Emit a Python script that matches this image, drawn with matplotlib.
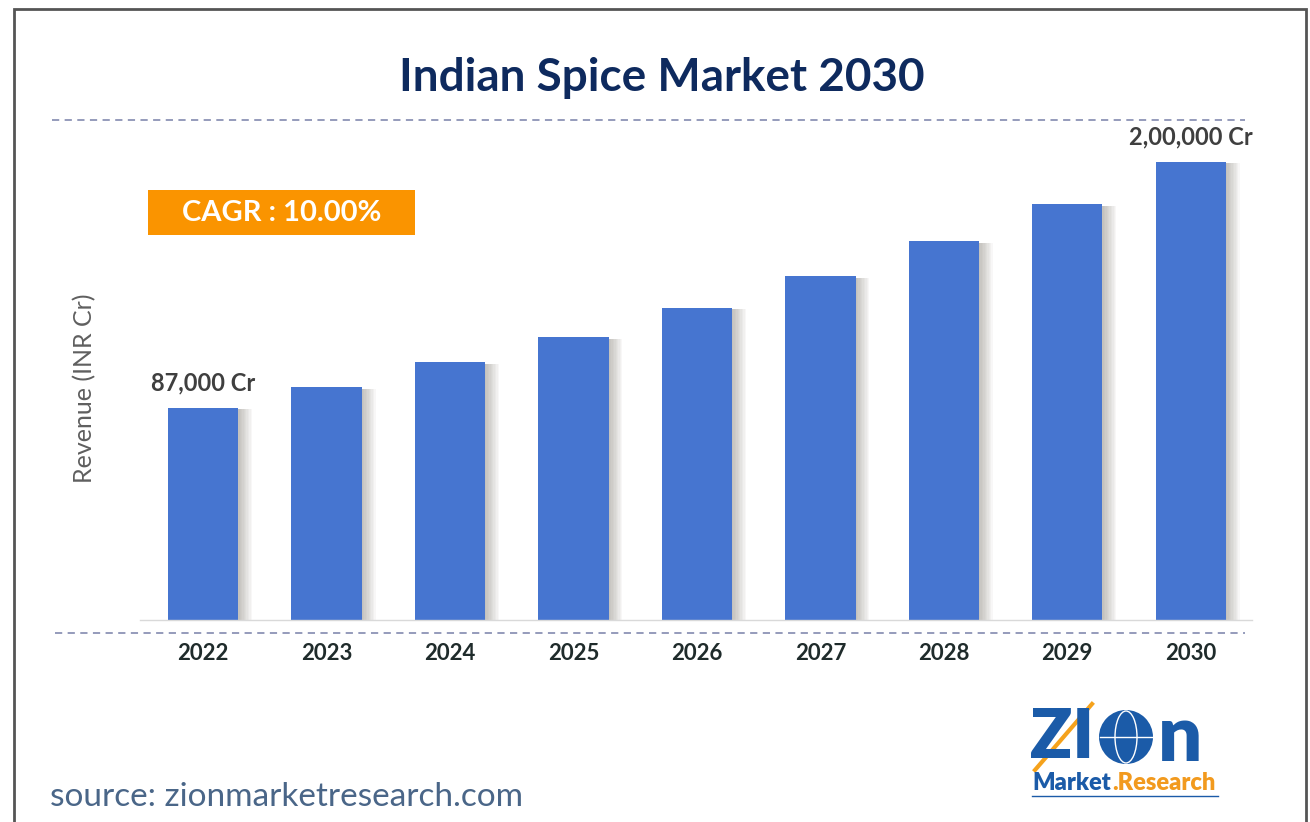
import matplotlib
matplotlib.use("Agg")
import matplotlib.pyplot as plt
import matplotlib.patheffects as pe
from matplotlib.patches import Rectangle, Ellipse
from matplotlib.lines import Line2D

W, H = 1310, 822

years = ["2022", "2023", "2024", "2025", "2026", "2027", "2028", "2029", "2030"]
revenue_cr = [87000, 96500, 108000, 119500, 133000, 147500, 163500, 180500, 200000]
value_labels = {0: "87,000 Cr", 8: "2,00,000 Cr"}
cagr_text = "CAGR : 10.00%"

BAR_BLUE = "#4675D0"
NAVY = "#0E2A5E"
DASH = "#8C93B5"
FONT = "Lato"


def fx(px):
    return px / W


def fy(py):
    return 1 - py / H


fig = plt.figure(figsize=(W / 100, H / 100), dpi=100)
fig.patch.set_facecolor("white")

# outer frame
fig.patches.append(Rectangle((fx(14), fy(830)), fx(1306) - fx(14), fy(9) - fy(830),
                             transform=fig.transFigure, fill=False, edgecolor="#555555", lw=2))

# chart area, baseline sits a little above zero so the axis is not visible
base = -10400
ax = fig.add_axes([fx(140), fy(620), fx(1250) - fx(140), fy(120) - fy(620)])
ax.set_xlim(-0.51, 8.48)
ax.set_ylim(base, 219250)
ax.axis("off")

xs = list(range(len(years)))
heights = [v - base for v in revenue_cr]
shadow = [pe.SimplePatchShadow(offset=(k, -1), shadow_rgbFace="#7a7468", alpha=0.05) for k in range(1, 11)]
bars = ax.bar(xs, heights, bottom=base, width=0.57, color=BAR_BLUE, zorder=3)
for b in bars:
    b.set_path_effects(shadow + [pe.Normal()])

for i, txt in value_labels.items():
    ax.annotate(txt, (xs[i], revenue_cr[i]), xytext=(0, 18), textcoords="offset points",
                ha="center", va="center", fontsize=17, fontweight="bold", color="#3F3F3F",
                family=FONT)

# light baseline and the two dashed rules
fig.add_artist(Line2D([fx(140), fx(1252)], [fy(620), fy(620)], color="#D9D9D9", lw=1))
fig.add_artist(Line2D([fx(52), fx(1245)], [fy(120), fy(120)], color=DASH, lw=1.3, ls=(0, (4, 3))))
fig.add_artist(Line2D([fx(55), fx(1245)], [fy(633), fy(633)], color=DASH, lw=1.3, ls=(0, (4, 3))))

for i, yr in enumerate(years):
    xd = ax.transData.transform((xs[i], 0))[0]
    fig.text(xd / W, fy(653), yr, ha="center", va="center", fontsize=16,
             fontweight="bold", color="#1F2B2B", family=FONT)

fig.text(fx(662), fy(78), "Indian Spice Market 2030", ha="center", va="center",
         fontsize=33, fontweight="bold", color=NAVY, family=FONT)

fig.text(fx(85), fy(388), "Revenue (INR Cr)", ha="center", va="center", rotation=90,
         fontsize=18, color="#5F5F5F", family=FONT)

# CAGR badge
fig.patches.append(Rectangle((fx(148), fy(235)), fx(415) - fx(148), fy(190) - fy(235),
                             transform=fig.transFigure, facecolor="#FA9400", edgecolor="none"))
fig.text(fx(282), fy(213), cagr_text, ha="center", va="center", fontsize=21,
         fontweight="bold", color="white", family=FONT)

fig.text(fx(50), fy(797), "source: zionmarketresearch.com", ha="left", va="center",
         fontsize=24, color="#4A6688", family=FONT)

# logo
logo_blue = "#1B5BA8"
fig.text(fx(1030), fy(738), "ZI", ha="left", va="center", fontsize=50, fontweight="heavy",
         color=logo_blue, family=FONT)
gx, gy = fx(1126), fy(737)
fig.patches.append(Ellipse((gx, gy), 54 / W, 54 / H, transform=fig.transFigure,
                           facecolor=logo_blue, edgecolor="none"))
fig.patches.append(Ellipse((gx, gy), 22 / W, 52 / H, transform=fig.transFigure,
                           fill=False, edgecolor="white", lw=1))
fig.add_artist(Line2D([gx - 26 / W, gx + 26 / W], [gy, gy], color="white", lw=1))
fig.text(fx(1158), fy(738), "n", ha="left", va="center", fontsize=56, fontweight="heavy",
         color=logo_blue, family=FONT)
fig.add_artist(Line2D([fx(1035), fx(1092)], [fy(770), fy(704)], color="#F5A21C", lw=3))
fig.text(fx(1032), fy(783), "Market", ha="left", va="center", fontsize=17, fontweight="heavy",
         color=logo_blue, family=FONT)
fig.text(fx(1112), fy(783), ".Research", ha="left", va="center", fontsize=17, fontweight="heavy",
         color="#F29A1E", family=FONT)
fig.add_artist(Line2D([fx(1032), fx(1218)], [fy(796), fy(796)], color=logo_blue, lw=1))

fig.savefig("out.png", dpi=100)
